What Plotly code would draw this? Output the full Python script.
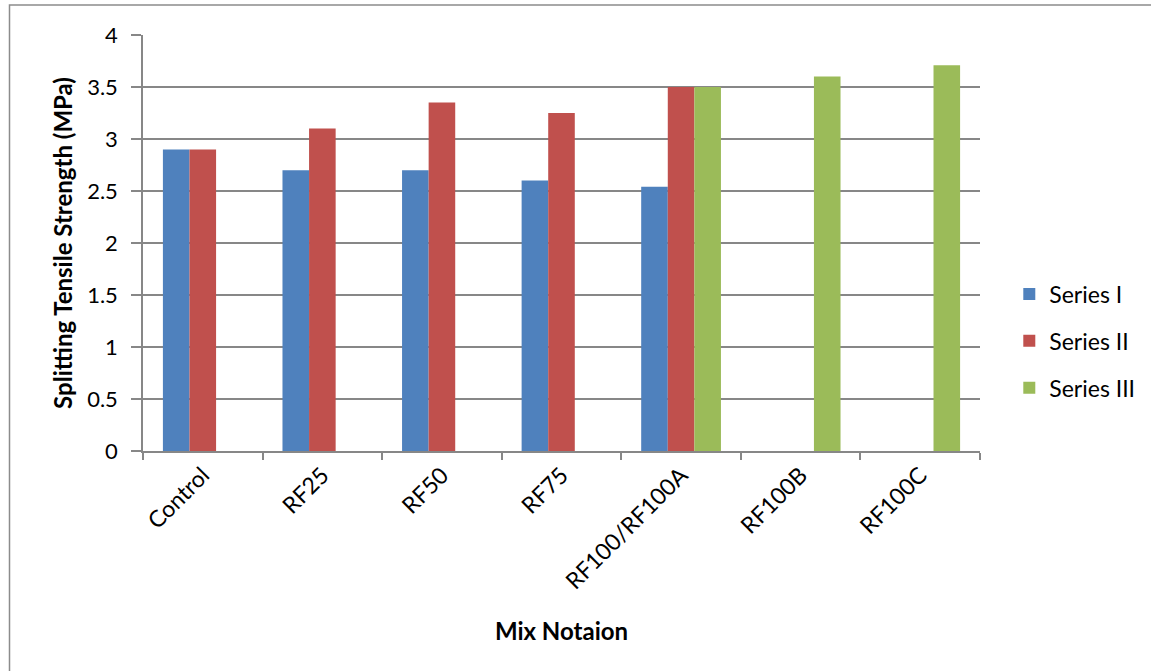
import plotly.graph_objects as go

# Mix designs and splitting tensile strength (MPa) per series
mixes = ["Control", "RF25", "RF50", "RF75", "RF100/RF100A", "RF100B", "RF100C"]
series_i = [2.9, 2.7, 2.7, 2.6, 2.54, None, None]
series_ii = [2.9, 3.1, 3.35, 3.25, 3.5, None, None]
series_iii = [None, None, None, None, 3.5, 3.6, 3.71]
y_ticks = [0, 0.5, 1, 1.5, 2, 2.5, 3, 3.5, 4]
y_tick_text = ["0", "0.5", "1", "1.5", "2", "2.5", "3", "3.5", "4"]

FONT = "Lato"
GRID = "#878787"

fig = go.Figure()
for name, vals, color in [
    ("Series I", series_i, "#4F81BD"),
    ("Series II", series_ii, "#C0504D"),
    ("Series III", series_iii, "#9BBB59"),
]:
    fig.add_trace(go.Bar(
        x=mixes, y=vals, name=name, legendgroup=name,
        marker=dict(color=color, line=dict(width=0)),
    ))

W, H = 1151, 671
L, R, T, B = 143, 171, 35, 220
pw, ph = W - L - R, H - T - B

fig.update_layout(
    width=W, height=H,
    margin=dict(l=L, r=R, t=T, b=B, autoexpand=False),
    paper_bgcolor="white", plot_bgcolor="white",
    font=dict(family=FONT, size=20, color="black"),
    barmode="group", bargap=0.333, bargroupgap=0,
    showlegend=True,
    legend=dict(
        x=1.035, y=(H - B - 341) / ph, yref="paper",
        xanchor="left", yanchor="middle",
        font=dict(family=FONT, size=23, color="black"),
        tracegroupgap=14, itemclick=False,
    ),
    xaxis=dict(
        type="category", tickangle=-45, tickson="boundaries",
        ticks="outside", ticklen=7, tickcolor=GRID, tickwidth=1.5,
        showline=True, linecolor=GRID, linewidth=1.5,
        showgrid=False,
        tickfont=dict(family=FONT, size=23),
        title=dict(text="<b>Mix Notaion</b>", font=dict(family=FONT, size=24), standoff=30),
    ),
    yaxis=dict(
        range=[0, 4], tickvals=y_ticks, ticktext=y_tick_text,
        ticks="outside", ticklen=10, tickcolor=GRID, tickwidth=1.5,
        ticklabelstandoff=9,
        showline=True, linecolor=GRID, linewidth=1.5,
        showgrid=True, gridcolor=GRID, gridwidth=1.5, zeroline=False,
        tickfont=dict(family=FONT, size=22),
        title=dict(text="<b>Splitting Tensile Strength (MPa)</b>",
                   font=dict(family=FONT, size=24), standoff=8),
    ),
)

# Chart-area frame (only top and left edges fall inside the page)
fig.add_shape(
    type="rect", xref="paper", yref="paper", layer="below",
    x0=(9.5 - L) / pw, x1=1.5, y0=-1.0, y1=(H - B - 5) / ph,
    line=dict(color="#8c8c8c", width=1.5), fillcolor="rgba(0,0,0,0)",
)

fig.write_html("out.html")
